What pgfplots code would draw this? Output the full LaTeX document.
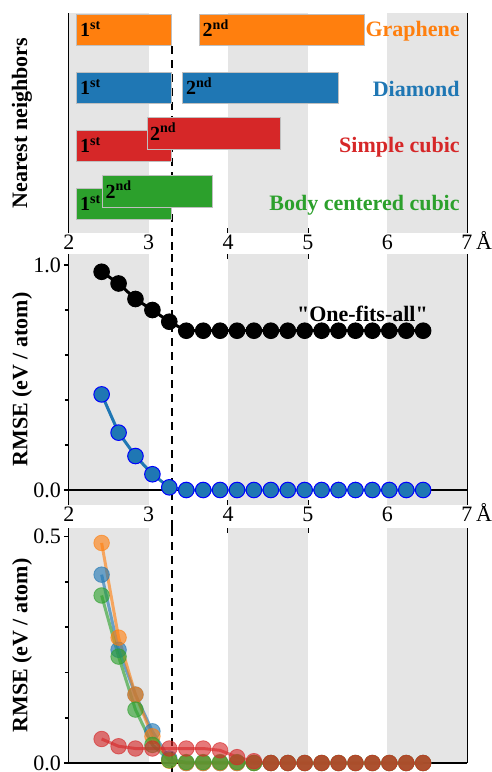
\documentclass[border=0pt]{standalone}
\usepackage{fontspec}
\setmainfont{Liberation Serif}[Ligatures=TeXOff]
\usepackage{pgfplots}
\pgfplotsset{compat=1.18}
\definecolor{cOr}{HTML}{FF7F0E}
\definecolor{cBl}{HTML}{1F77B4}
\definecolor{cRd}{HTML}{D62728}
\definecolor{cGr}{HTML}{2CA02C}
\definecolor{band}{HTML}{E5E5E5}
\definecolor{edgegray}{HTML}{BFBFBF}
\pgfplotsset{
 panel/.style={
  scale only axis, width=398pt, xmin=2, xmax=7, anchor=south west,
  separate axis lines,
  x axis line style={draw=none},
  y axis line style={line width=1.6pt},
  xtick={2,3,4,5,6,7},
  xtick align=inside,
  major tick length=5pt, minor tick length=4pt,
  every tick/.style={black, line width=1.6pt},
  tick label style={font=\fontsize{22}{26}\selectfont},
  xticklabel style={inner sep=1.5pt},
  yticklabel style={inner sep=0.5pt, xshift=-2.5pt},
  xticklabels={2,3,4,5,6,{7\rlap{\,\smash{Å}}}},
  ylabel style={font=\fontsize{22}{26}\selectfont\bfseries, at={(axis description cs:-0.118,0.5)}, anchor=center},
  clip=false,
 },
 bar/.style={draw=edgegray, line width=1pt},
 ser/.style={line width=3pt, opacity=0.62, mark=*, mark size=7.8pt, mark options={draw=#1, fill=#1, line width=0.8pt}, #1},
}
\tikzset{
 lab/.style={anchor=base west, inner xsep=3pt, font=\fontsize{20}{24}\selectfont\bfseries},
 stname/.style={anchor=base east, inner xsep=0pt, font=\fontsize{22}{26}\selectfont\bfseries},
 dashv/.style={dash pattern=on 8pt off 6pt, line width=2.2pt},
}
\begin{document}
\begin{tikzpicture}
\useasboundingbox (0pt,0pt) rectangle (491pt,-772pt);
% ---------------- Panel 1: nearest neighbours ----------------
\begin{axis}[panel, at={(69pt,-233pt)}, height=220pt,
  ymin=-0.5, ymax=3.293, ytick=\empty,
  xtick pos=left, xticklabel pos=left,
  ylabel={Nearest neighbors}]
\fill[band] (axis cs:2,-0.5) rectangle (axis cs:3,3.293);
\fill[band] (axis cs:4,-0.5) rectangle (axis cs:5,3.293);
\fill[band] (axis cs:6,-0.5) rectangle (axis cs:7,3.293);
\draw[dashv] (axis cs:3.29,2.72) -- (axis cs:3.29,-0.862);
% Graphene
\addplot[bar, fill=cOr] coordinates {(2.1,2.725) (3.29,2.725) (3.29,3.275) (2.1,3.275)} --cycle;
\addplot[bar, fill=cOr] coordinates {(3.64,2.725) (5.71,2.725) (5.71,3.275) (3.64,3.275)} --cycle;
% Diamond
\addplot[bar, fill=cBl] coordinates {(2.1,1.725) (3.29,1.725) (3.29,2.275) (2.1,2.275)} --cycle;
\addplot[bar, fill=cBl] coordinates {(3.43,1.725) (5.38,1.725) (5.38,2.275) (3.43,2.275)} --cycle;
% Simple cubic
\addplot[bar, fill=cRd] coordinates {(2.1,0.725) (3.29,0.725) (3.29,1.275) (2.1,1.275)} --cycle;
\addplot[bar, fill=cRd] coordinates {(2.98,0.945) (4.66,0.945) (4.66,1.495) (2.98,1.495)} --cycle;
% BCC
\addplot[bar, fill=cGr] coordinates {(2.1,-0.275) (3.29,-0.275) (3.29,0.275) (2.1,0.275)} --cycle;
\addplot[bar, fill=cGr] coordinates {(2.42,-0.06) (3.8,-0.06) (3.8,0.49) (2.42,0.49)} --cycle;
\node[lab] at (axis cs:2.1,2.88) {1\textsuperscript{st}};
\node[lab] at (axis cs:3.64,2.88) {2\textsuperscript{nd}};
\node[lab] at (axis cs:2.1,1.88) {1\textsuperscript{st}};
\node[lab] at (axis cs:3.43,1.88) {2\textsuperscript{nd}};
\node[lab] at (axis cs:2.1,0.88) {1\textsuperscript{st}};
\node[lab] at (axis cs:2.98,1.10) {2\textsuperscript{nd}};
\node[lab] at (axis cs:2.1,-0.12) {1\textsuperscript{st}};
\node[lab] at (axis cs:2.42,0.10) {2\textsuperscript{nd}};
\node[stname, text=cOr] at (axis cs:6.91,2.89) {Graphene};
\node[stname, text=cBl] at (axis cs:6.91,1.86) {Diamond};
\node[stname, text=cRd] at (axis cs:6.91,0.89) {Simple cubic};
\node[stname, text=cGr] at (axis cs:6.91,-0.115) {Body centered cubic};
\end{axis}
% ---------------- Panel 2: one fits all ----------------
\begin{axis}[panel, at={(69pt,-505pt)}, height=251pt,
  ymin=-0.0667, ymax=1.049,
  xtick pos=both, xticklabel pos=left,
  ytick={0,1}, yticklabels={0.0,1.0}, minor ytick={0.2,0.4,0.6,0.8},
  ytick pos=left, ytick align=outside,
  ylabel={RMSE (eV / atom)}]
\fill[band] (axis cs:2,-0.0667) rectangle (axis cs:3,1.049);
\fill[band] (axis cs:4,-0.0667) rectangle (axis cs:5,1.049);
\fill[band] (axis cs:6,-0.0667) rectangle (axis cs:7,1.049);
\draw[line width=1.6pt] (axis cs:2,0) -- (axis cs:7,0);
\draw[dashv] (axis cs:3.29,1.049) -- (axis cs:3.29,-0.169);
\addplot[black, line width=3pt, mark=*, mark size=7.8pt, mark options={fill=black, line width=1pt}] coordinates {
(2.410,0.970) (2.623,0.918) (2.835,0.849) (3.048,0.800) (3.260,0.748)
(3.473,0.708) (3.686,0.708) (3.898,0.708) (4.111,0.708) (4.323,0.708)
(4.536,0.708) (4.749,0.708) (4.961,0.708) (5.174,0.708) (5.386,0.708)
(5.599,0.708) (5.812,0.708) (6.024,0.708) (6.237,0.708) (6.449,0.708)};
\addplot[cBl, line width=3pt, mark=*, mark size=7.8pt, mark options={fill=cBl, draw=blue, line width=1pt}] coordinates {
(2.410,0.425) (2.623,0.255) (2.835,0.151) (3.048,0.070) (3.260,0.012)
(3.473,0) (3.686,0) (3.898,0) (4.111,0) (4.323,0)
(4.536,0) (4.749,0) (4.961,0) (5.174,0) (5.386,0)
(5.599,0) (5.812,0) (6.024,0) (6.237,0) (6.449,0)};
\node[anchor=base east, inner xsep=0pt, font=\fontsize{22}{26}\selectfont\bfseries] at (axis cs:6.51,0.748) {"One-fits-all"};
\end{axis}
% ---------------- Panel 3: per structure ----------------
\begin{axis}[panel, at={(69pt,-763pt)}, height=235pt,
  ymin=0, ymax=0.519,
  xtick pos=right, xticklabels={},
  ytick={0,0.5}, yticklabels={0.0,0.5}, minor ytick={0.1,0.2,0.3,0.4},
  ytick pos=left, ytick align=outside,
  ylabel={RMSE (eV / atom)}]
\fill[band] (axis cs:2,0) rectangle (axis cs:3,0.519);
\fill[band] (axis cs:4,0) rectangle (axis cs:5,0.519);
\fill[band] (axis cs:6,0) rectangle (axis cs:7,0.519);
\draw[line width=1.6pt] (axis cs:2,0) -- (axis cs:7,0);
\draw[dashv] (axis cs:3.29,0.519) -- (axis cs:3.29,-0.02);
\addplot[ser=cBl] coordinates {
(2.410,0.416) (2.623,0.250) (2.835,0.151) (3.048,0.070) (3.260,0.010)
(3.473,0) (3.686,0) (3.898,0) (4.111,0) (4.323,0)
(4.536,0) (4.749,0) (4.961,0) (5.174,0) (5.386,0)
(5.599,0) (5.812,0) (6.024,0) (6.237,0) (6.449,0)};
\addplot[ser=cOr] coordinates {
(2.410,0.486) (2.623,0.277) (2.835,0.151) (3.048,0.059) (3.260,0.005)
(3.473,0) (3.686,0) (3.898,0) (4.111,0) (4.323,0)
(4.536,0) (4.749,0) (4.961,0) (5.174,0) (5.386,0)
(5.599,0) (5.812,0) (6.024,0) (6.237,0) (6.449,0)};
\addplot[ser=cGr] coordinates {
(2.410,0.370) (2.623,0.235) (2.835,0.118) (3.048,0.040) (3.260,0.006)
(3.473,0.002) (3.686,0.002) (3.898,0.002) (4.111,0.002) (4.323,0)
(4.536,0) (4.749,0) (4.961,0) (5.174,0) (5.386,0)
(5.599,0) (5.812,0) (6.024,0) (6.237,0) (6.449,0)};
\addplot[ser=cRd] coordinates {
(2.410,0.053) (2.623,0.037) (2.835,0.032) (3.048,0.032) (3.260,0.032)
(3.473,0.032) (3.686,0.032) (3.898,0.028) (4.111,0.013) (4.323,0.004)
(4.536,0) (4.749,0) (4.961,0) (5.174,0) (5.386,0)
(5.599,0) (5.812,0) (6.024,0) (6.237,0) (6.449,0)};
\end{axis}
\end{tikzpicture}
\end{document}
